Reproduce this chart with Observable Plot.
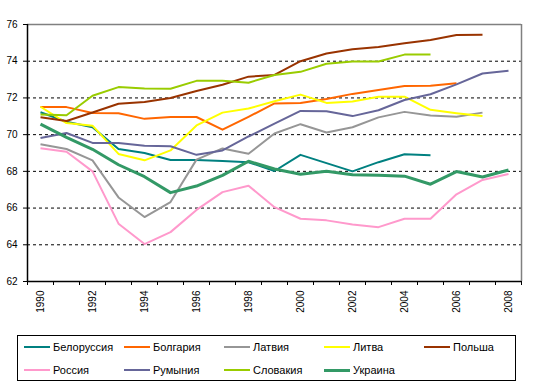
<!DOCTYPE html>
<html>
<head>
<meta charset="utf-8">
<script src="https://cdn.jsdelivr.net/npm/d3@7"></script>
<script src="https://cdn.jsdelivr.net/npm/@observablehq/plot@0.6"></script>
<style>
  body { margin: 0; background: #fff; font-family: "Liberation Sans", Arial, sans-serif; }
  #wrap { position: relative; width: 537px; height: 387px; }
  #legend { position: absolute; left: 17px; top: 335px; width: 499px; height: 46px; border: 1px solid #000; box-sizing: border-box; font-size: 11px; color: #000; }
  .item { position: absolute; display: flex; align-items: center; white-space: nowrap; }
  .sw { width: 26px; margin-right: 3px; }
</style>
</head>
<body>
<div id="wrap"><div id="chart"></div><div id="legend"></div></div>
<script>
const years = d3.range(1990, 2009);
const names = ["Белоруссия", "Болгария", "Латвия", "Литва", "Польша", "Россия", "Румыния", "Словакия", "Украина"];
const colors = ["#008080", "#FF6600", "#969696", "#FFFF00", "#993300", "#FF99CC", "#666699", "#99CC00", "#339966"];
const widths = [2, 2, 2, 2, 2, 2, 2, 2, 3];

const belarus   = [71.22, 70.7, 70.4, 69.22, 69.0, 68.62, 68.62, 68.57, 68.5, 68.02, 68.9, 68.45, 68.0, 68.5, 68.93, 68.88, null, null, null];
const bulgaria  = [71.5, 71.5, 71.18, 71.17, 70.86, 70.96, 70.96, 70.27, 70.97, 71.7, 71.72, 71.94, 72.22, 72.43, 72.65, 72.66, 72.8, null, null];
const latvia    = [69.48, 69.22, 68.6, 66.58, 65.51, 66.33, 68.64, 69.25, 68.96, 70.06, 70.57, 70.12, 70.4, 70.94, 71.24, 71.04, 70.97, 71.2, null];
const lithuania = [71.52, 70.63, 70.49, 68.95, 68.6, 69.14, 70.5, 71.2, 71.42, 71.82, 72.18, 71.73, 71.8, 72.06, 72.07, 71.35, 71.17, 71.02, null];
const poland    = [70.95, 70.74, 71.21, 71.68, 71.78, 72.0, 72.38, 72.72, 73.16, 73.25, 74.0, 74.42, 74.65, 74.78, 74.98, 75.16, 75.43, 75.44, null];
const russia    = [69.26, 69.07, 68.0, 65.15, 64.04, 64.69, 65.9, 66.87, 67.22, 66.05, 65.42, 65.33, 65.1, 64.96, 65.42, 65.42, 66.75, 67.53, 67.86];
const romania   = [69.82, 70.09, 69.55, 69.55, 69.39, 69.37, 68.9, 69.14, 69.9, 70.6, 71.29, 71.28, 71.01, 71.33, 71.89, 72.2, 72.74, 73.33, 73.48];
const slovakia  = [71.1, 71.06, 72.12, 72.59, 72.51, 72.5, 72.93, 72.94, 72.83, 73.25, 73.42, 73.86, 73.98, 73.98, 74.36, 74.36, null, null, null];
const ukraine   = [70.57, 69.85, 69.2, 68.36, 67.71, 66.84, 67.2, 67.78, 68.55, 68.13, 67.84, 68.0, 67.82, 67.79, 67.74, 67.3, 67.99, 67.69, 68.07];

const series = [belarus, bulgaria, latvia, lithuania, poland, russia, romania, slovakia, ukraine];
const yTicks = d3.range(62, 77, 2);
const gridTicks = d3.range(64, 76, 2);
const xLabelYears = d3.range(1990, 2009, 2);
const xBounds = d3.range(1989.5, 2009, 1);

const lineMarks = series.map((vals, i) =>
  Plot.lineY(years.map((yr, j) => ({year: yr, v: vals[j]})), {
    x: "year", y: "v", stroke: colors[i], strokeWidth: widths[i],
    defined: d => d.v != null, strokeLinejoin: "round", strokeLinecap: "butt"
  })
);

const chart = Plot.plot({
  width: 537,
  height: 325,
  marginLeft: 27,
  marginRight: 16,
  marginTop: 24,
  marginBottom: 44,
  style: { fontFamily: "'Liberation Sans', Arial, sans-serif", fontSize: "10px", color: "#000", background: "#fff" },
  x: { domain: [1989.5, 2008.5] },
  y: { domain: [62, 76] },
  marks: [
    Plot.ruleY(gridTicks, { stroke: "#000", strokeDasharray: "3,3", strokeWidth: 1 }),
    Plot.ruleY([76], { stroke: "#808080", strokeWidth: 1.5 }),
    Plot.ruleX([2008.5], { stroke: "#808080", strokeWidth: 1.5 }),
    ...lineMarks,
    Plot.ruleX([1989.5], { stroke: "#000", strokeWidth: 1.5 }),
    Plot.ruleY([62], { stroke: "#000", strokeWidth: 1.5 }),
    Plot.axisY({ ticks: yTicks, tickSize: 4, tickPadding: 6, tickFormat: d => String(d), label: null, stroke: "#000", fill: "#000" }),
    Plot.axisX({ ticks: xBounds, tickSize: 4, tickFormat: () => "", label: null, stroke: "#000" }),
    Plot.axisX({ ticks: xLabelYears, tickSize: 0, tickPadding: 9, tickRotate: -90, tickFormat: d => String(d), label: null, fill: "#000" })
  ]
});
document.getElementById("chart").appendChild(chart);

const legend = document.getElementById("legend");
names.forEach((name, i) => {
  const row = Math.floor(i / 5), col = i % 5;
  const item = document.createElement("div");
  item.className = "item";
  item.style.left = (6 + col * 100) + "px";
  item.style.top = (row === 0 ? 4 : 27) + "px";
  item.style.height = "14px";
  const sw = document.createElement("span");
  sw.className = "sw";
  sw.style.height = widths[i] + "px";
  sw.style.background = colors[i];
  const tx = document.createElement("span");
  tx.textContent = name;
  item.appendChild(sw);
  item.appendChild(tx);
  legend.appendChild(item);
});
</script>
</body>
</html>
